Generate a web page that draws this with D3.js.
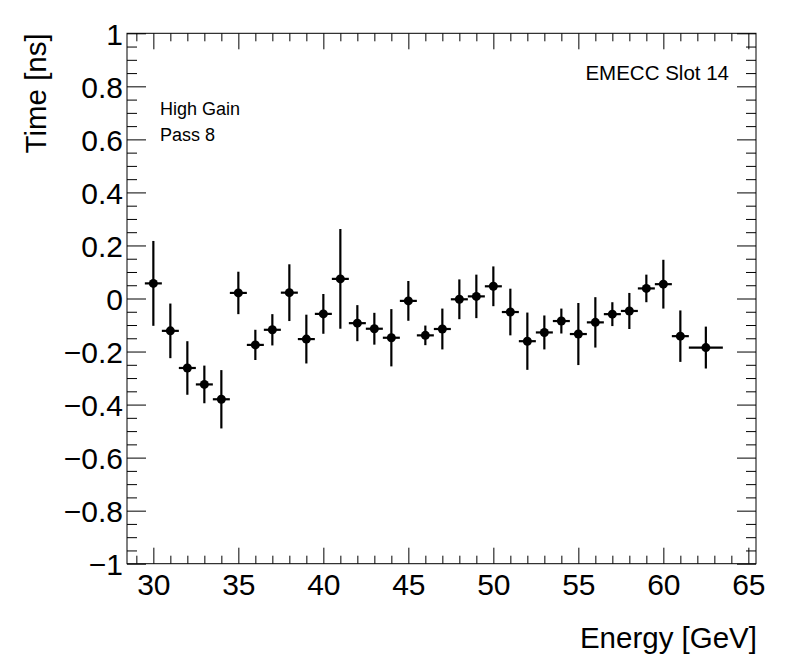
<!DOCTYPE html>
<html>
<head>
<meta charset="utf-8">
<script src="https://cdn.jsdelivr.net/npm/d3@7"></script>
<style>
  body { margin: 0; background: #fff; }
  svg { display: block; font-family: "Liberation Sans", Arial, Helvetica, sans-serif; }
</style>
</head>
<body>
<div id="chart"></div>
<script>
// Data
const energies = [30, 31, 32, 33, 34, 35, 36, 37, 38, 39, 40, 41, 42, 43, 44, 45, 46, 47,
                  48, 49, 50, 51, 52, 53, 54, 55, 56, 57, 58, 59, 60, 61, 62.5];
const energyErrs = [0.5, 0.5, 0.5, 0.5, 0.5, 0.5, 0.5, 0.5, 0.5, 0.5, 0.5, 0.5, 0.5, 0.5, 0.5, 0.5, 0.5, 0.5,
                    0.5, 0.5, 0.5, 0.5, 0.5, 0.5, 0.5, 0.5, 0.5, 0.5, 0.5, 0.5, 0.5, 0.5, 1.0];
const times = [0.057, -0.122, -0.262, -0.324, -0.380, 0.021, -0.175, -0.118, 0.022, -0.153,
               -0.058, 0.074, -0.093, -0.114, -0.148, -0.009, -0.139, -0.115, -0.003, 0.008,
               0.046, -0.051, -0.161, -0.128, -0.085, -0.134, -0.090, -0.059, -0.047, 0.038,
               0.054, -0.142, -0.185];
const timeErrs = [0.160, 0.103, 0.101, 0.071, 0.110, 0.080, 0.057, 0.059, 0.107, 0.092,
                  0.075, 0.188, 0.068, 0.060, 0.108, 0.075, 0.037, 0.077, 0.075, 0.082,
                  0.075, 0.088, 0.108, 0.064, 0.047, 0.117, 0.095, 0.045, 0.068, 0.052,
                  0.092, 0.097, 0.079];

const xMajor = [30, 35, 40, 45, 50, 55, 60, 65];
const yMajor = [-1, -0.8, -0.6, -0.4, -0.2, 0, 0.2, 0.4, 0.6, 0.8, 1];

const W = 796, H = 672;
const padL = 127, padR = 756, padT = 33.3, padB = 563.7;

const svg = d3.select("#chart").append("svg")
    .attr("width", W)
    .attr("height", H);

svg.append("rect").attr("width", W).attr("height", H).attr("fill", "#fff");

const x = d3.scaleLinear().domain([28.45, 65.45]).range([padL, padR]);
const y = d3.scaleLinear().domain([-1, 1]).range([padB, padT]);

const xMinor = d3.range(29, 66).filter(v => xMajor.indexOf(v) < 0);
const yMinor = d3.range(-20, 21).filter(i => (i % 4) !== 0).map(i => i * 0.05);

const fmt = d3.format("~g");

function styleAxis(g) {
    g.select(".domain").remove();
    g.selectAll("line").attr("stroke", "#000").attr("stroke-width", 1);
    g.selectAll("text").attr("fill", "#000");
}

// Bottom axis (ticks point inward)
svg.append("g")
    .attr("transform", `translate(0,${padB})`)
    .call(d3.axisBottom(x).tickValues(xMajor).tickSize(-16).tickPadding(10).tickFormat(fmt))
    .call(styleAxis)
    .call(g => g.selectAll("text").attr("font-size", 30).attr("dy", "0.72em"));
svg.append("g")
    .attr("transform", `translate(0,${padB})`)
    .call(d3.axisBottom(x).tickValues(xMinor).tickSize(-8).tickFormat(""))
    .call(styleAxis);

// Top mirror ticks
svg.append("g")
    .attr("transform", `translate(0,${padT})`)
    .call(d3.axisTop(x).tickValues(xMajor).tickSize(-16).tickFormat(""))
    .call(styleAxis);
svg.append("g")
    .attr("transform", `translate(0,${padT})`)
    .call(d3.axisTop(x).tickValues(xMinor).tickSize(-8).tickFormat(""))
    .call(styleAxis);

// Left axis
svg.append("g")
    .attr("transform", `translate(${padL},0)`)
    .call(d3.axisLeft(y).tickValues(yMajor).tickSize(-19).tickPadding(4).tickFormat(fmt))
    .call(styleAxis)
    .call(g => g.selectAll("text").attr("font-size", 30).attr("dy", "0.36em"));
svg.append("g")
    .attr("transform", `translate(${padL},0)`)
    .call(d3.axisLeft(y).tickValues(yMinor).tickSize(-10).tickFormat(""))
    .call(styleAxis);

// Right mirror ticks
svg.append("g")
    .attr("transform", `translate(${padR},0)`)
    .call(d3.axisRight(y).tickValues(yMajor).tickSize(-19).tickFormat(""))
    .call(styleAxis);
svg.append("g")
    .attr("transform", `translate(${padR},0)`)
    .call(d3.axisRight(y).tickValues(yMinor).tickSize(-10).tickFormat(""))
    .call(styleAxis);

// Frame
svg.append("rect")
    .attr("x", padL).attr("y", padT)
    .attr("width", padR - padL).attr("height", padB - padT)
    .attr("fill", "none").attr("stroke", "#000").attr("stroke-width", 1);

// Points with error bars
const pts = energies.map((e, i) => ({ e, ex: energyErrs[i], t: times[i], et: timeErrs[i] }));

const pg = svg.append("g");
pg.selectAll(".ex")
    .data(pts).enter().append("line")
    .attr("x1", d => x(d.e - d.ex)).attr("x2", d => x(d.e + d.ex))
    .attr("y1", d => y(d.t)).attr("y2", d => y(d.t))
    .attr("stroke", "#000").attr("stroke-width", 2.2);
pg.selectAll(".ey")
    .data(pts).enter().append("line")
    .attr("x1", d => x(d.e)).attr("x2", d => x(d.e))
    .attr("y1", d => y(d.t - d.et)).attr("y2", d => y(d.t + d.et))
    .attr("stroke", "#000").attr("stroke-width", 2.2);
pg.selectAll("circle")
    .data(pts).enter().append("circle")
    .attr("cx", d => x(d.e)).attr("cy", d => y(d.t))
    .attr("r", 4.5).attr("fill", "#000");

// Axis titles
svg.append("text")
    .attr("x", padR + 1).attr("y", 648)
    .attr("text-anchor", "end")
    .attr("font-size", 29.5)
    .text("Energy [GeV]");

svg.append("text")
    .attr("transform", `translate(46,${padT}) rotate(-90)`)
    .attr("text-anchor", "end")
    .attr("font-size", 29.5)
    .text("Time [ns]");

// Labels
svg.append("text")
    .attr("x", 729).attr("y", 79.5)
    .attr("text-anchor", "end")
    .attr("font-size", 20.5)
    .text("EMECC Slot 14");

svg.append("text")
    .attr("x", 160).attr("y", 115)
    .attr("font-size", 18)
    .text("High Gain");

svg.append("text")
    .attr("x", 160).attr("y", 141)
    .attr("font-size", 18)
    .text("Pass 8");
</script>
</body>
</html>
